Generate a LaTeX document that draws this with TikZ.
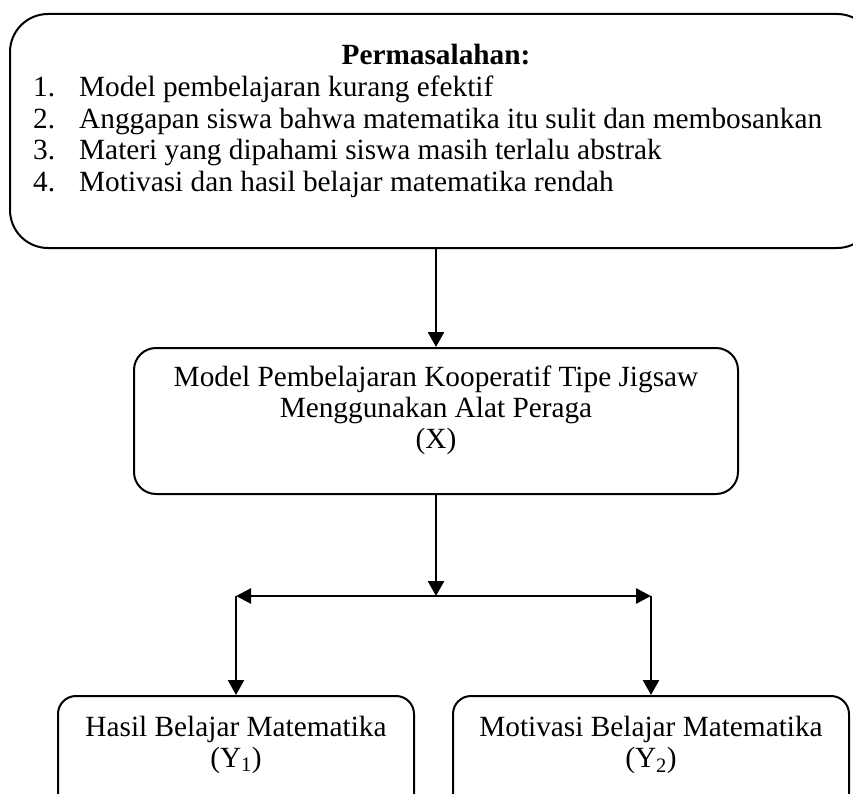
\documentclass[tikz,border=0pt]{standalone}
\usepackage{fontspec}
\setmainfont{Liberation Serif}
\usetikzlibrary{arrows.meta}
\begin{document}
\begin{tikzpicture}[x=1pt,y=-1pt,
  box/.style={draw,line width=2pt,rounded corners=#1,inner sep=0pt},
  txt/.style={inner sep=0pt,font=\fontsize{29.3}{33.5}\selectfont},
  arr/.style={line width=2.6pt,-{Triangle[length=15pt,width=16pt]}},
  arrboth/.style={line width=2.6pt,{Triangle[length=15pt,width=15pt]}-{Triangle[length=15pt,width=15pt]}}]
\clip (0,0) rectangle (853,794);
% top box
\node[box=38pt,minimum width=865pt,minimum height=234pt] (top) at (442.5,131) {};
\node[txt,font=\fontsize{29.3}{33.5}\selectfont\bfseries,anchor=base] (title) at (436,65) {Permasalahan:};
\node[txt,anchor=base west] (n1) at (33,97) {1.};
\node[txt,anchor=base west] (t1) at (79,97) {Model pembelajaran kurang efektif};
\node[txt,anchor=base west] (n2) at (33,128.5) {2.};
\node[txt,anchor=base west] (t2) at (79,128.5) {Anggapan siswa bahwa matematika itu sulit dan membosankan};
\node[txt,anchor=base west] (n3) at (33,160) {3.};
\node[txt,anchor=base west] (t3) at (79,160) {Materi yang dipahami siswa masih terlalu abstrak};
\node[txt,anchor=base west] (n4) at (33,191.5) {4.};
\node[txt,anchor=base west] (t4) at (79,191.5) {Motivasi dan hasil belajar matematika rendah};
% middle box
\node[box=22pt,minimum width=604pt,minimum height=146pt] (mid) at (436,421) {};
\node[txt,anchor=base] (m1) at (436,386) {Model Pembelajaran Kooperatif Tipe Jigsaw};
\node[txt,anchor=base] (m2) at (436,417) {Menggunakan Alat Peraga};
\node[txt,anchor=base] (m3) at (436,448) {(X)};
% bottom boxes
\node[box=18pt,minimum width=356pt,minimum height=134pt] (lbox) at (236,763) {};
\node[txt,anchor=base] (l1) at (236,736) {Hasil Belajar Matematika};
\node[txt,anchor=base] (l2) at (236,767) {(Y\textsubscript{1})};
\node[box=18pt,minimum width=396pt,minimum height=134pt] (rbox) at (651,763) {};
\node[txt,anchor=base] (r1) at (651,736) {Motivasi Belajar Matematika};
\node[txt,anchor=base] (r2) at (651,767) {(Y\textsubscript{2})};
% connectors
\coordinate (J) at (436,596);
\coordinate (L) at (236,596);
\coordinate (R) at (651,596);
\draw[arr] (mid.north |- top.south) -- (mid.north);
\draw[arr] (mid.south) -- (J);
\draw[arrboth] (L) -- (R);
\draw[arr] (L) -- (lbox.north);
\draw[arr] (R) -- (rbox.north);
\end{tikzpicture}
\end{document}
